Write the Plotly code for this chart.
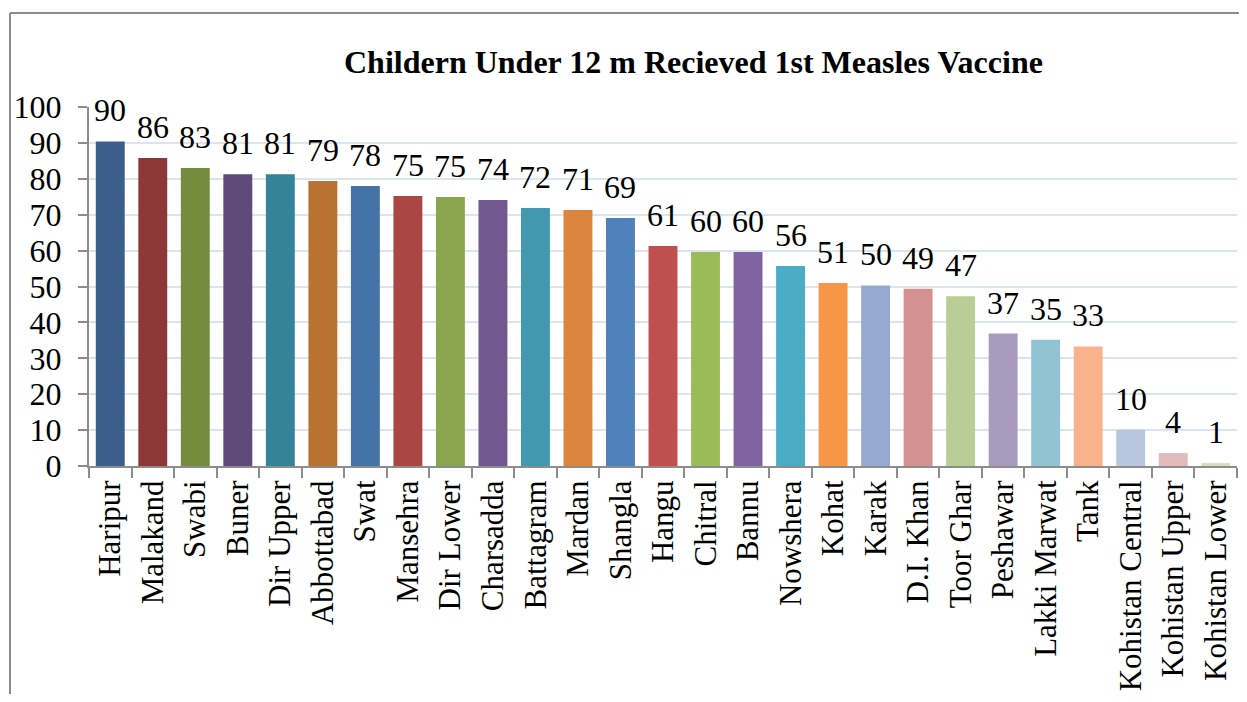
import plotly.graph_objects as go

districts = ["Haripur", "Malakand", "Swabi", "Buner", "Dir Upper", "Abbottabad", "Swat",
             "Mansehra", "Dir Lower", "Charsadda", "Battagram", "Mardan", "Shangla", "Hangu",
             "Chitral", "Bannu", "Nowshera", "Kohat", "Karak", "D.I. Khan", "Toor Ghar",
             "Peshawar", "Lakki Marwat", "Tank", "Kohistan Central", "Kohistan Upper",
             "Kohistan Lower"]
values = [90.4, 85.8, 83.0, 81.3, 81.3, 79.4, 78.0, 75.2, 74.9, 74.1, 71.9, 71.3, 69.1, 61.3,
          59.6, 59.6, 55.7, 51.0, 50.3, 49.4, 47.3, 36.9, 35.2, 33.3, 10.1, 3.6, 0.8]
colors = ["#3B5E8C", "#8C3836", "#758C3E", "#5F4A7A", "#358396", "#B87333", "#4572A7",
          "#AA4643", "#89A54E", "#71588F", "#4198AF", "#DB843D", "#4F81BD", "#C0504D",
          "#9BBB59", "#8064A2", "#4BACC6", "#F79646", "#95A9D1", "#D39190", "#B9CD96",
          "#A99BBD", "#92C3D4", "#F9B28B", "#B9C6DF", "#E0BBBB", "#D2DEC0"]
y_ticks = [0, 10, 20, 30, 40, 50, 60, 70, 80, 90, 100]
title_text = "Childern Under 12 m Recieved 1st Measles Vaccine"

FONT = "Liberation Serif, Times New Roman, serif"

# page has an 8px body margin on every side: keep the figure inside the window
OFF = 8
W, H = 1247 - 2 * OFF, 702 - 2 * OFF
L = 89 - OFF
T = 107 - OFF
PW = 1237 - 89
PH = 359
R = W - L - PW
B = H - T - PH

def px_x(px):
    return (px - OFF - L) / PW

def px_y(py):
    return (T + PH - (py - OFF)) / PH

fig = go.Figure()
fig.add_trace(go.Bar(x=districts, y=values, marker=dict(color=colors, line=dict(width=0)),
                     hoverinfo="x+y"))

annotations = []
for d, v in zip(districts, values):
    annotations.append(dict(x=d, y=v, xref="x", yref="y", text=str(round(v)),
                            showarrow=False, yanchor="bottom", yshift=11,
                            font=dict(family=FONT, size=32, color="black")))
annotations.append(dict(x=px_x(694), y=px_y(62), xref="paper", yref="paper",
                        text="<b>" + title_text + "</b>", showarrow=False,
                        xanchor="center", yanchor="middle",
                        font=dict(family=FONT, size=32, color="black")))

GRAY = "#8C8C8C"
border = dict(color=GRAY, width=2)
fig.update_layout(
    width=W, height=H,
    margin=dict(l=L, r=R, t=T, b=B, autoexpand=False),
    paper_bgcolor="white", plot_bgcolor="white",
    bargap=0.32,
    showlegend=False,
    annotations=annotations,
    shapes=[
        dict(type="line", xref="paper", yref="paper", x0=px_x(10), x1=1.3,
             y0=px_y(13), y1=px_y(13), line=border, layer="below"),
        dict(type="line", xref="paper", yref="paper", x0=px_x(10), x1=px_x(10),
             y0=px_y(13), y1=-1.0, line=border, layer="below"),
    ],
    xaxis=dict(tickangle=-90, tickfont=dict(family=FONT, size=31, color="black"),
               showline=True, linecolor=GRAY, linewidth=2,
               ticks="outside", tickson="boundaries", ticklen=10, tickcolor=GRAY, tickwidth=2,
               showgrid=False),
    yaxis=dict(range=[0, 100], tickvals=y_ticks, tickfont=dict(family=FONT, size=32, color="black"),
               showline=True, linecolor=GRAY, linewidth=2,
               ticks="outside", ticklen=9, tickcolor=GRAY, tickwidth=2,
               showgrid=True, gridcolor="#DCE4F0", gridwidth=2, zeroline=False,
               ticklabelstandoff=10),
)

fig.write_html("out.html")
